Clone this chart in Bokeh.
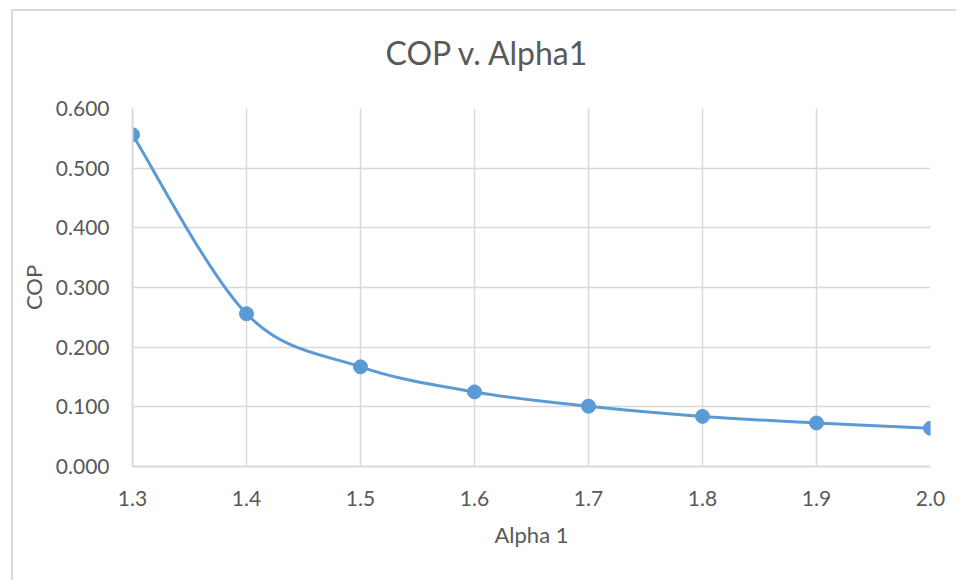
from bokeh.plotting import figure
from bokeh.models import NumeralTickFormatter, Range1d, FixedTicker, Title
from bokeh.embed import file_html
from bokeh.resources import INLINE

alpha = [1.3, 1.4, 1.5, 1.6, 1.7, 1.8, 1.9, 2.0]
cop = [0.556, 0.256, 0.167, 0.125, 0.101, 0.084, 0.073, 0.064]
x_ticks = [1.3, 1.4, 1.5, 1.6, 1.7, 1.8, 1.9, 2.0]
y_ticks = [0.0, 0.1, 0.2, 0.3, 0.4, 0.5, 0.6]

FONT = "Lato"
GREY = "#595959"
GRID = "#d9d9d9"
BLUE = "#5b9bd5"

p = figure(width=945, height=571, output_backend="svg", toolbar_location=None,
           x_range=Range1d(1.3, 2.0), y_range=Range1d(0, 0.6),
           min_border_left=119, min_border_right=28, min_border_top=97, min_border_bottom=116)
p.margin = (9, 0, 0, 11)
p.styles = {"border-top": "2px solid #d9d9d9", "border-left": "2px solid #d9d9d9"}
p.outline_line_color = None
p.background_fill_color = "white"
p.border_fill_color = "white"

p.title.text = "COP v. Alpha1"
p.title.text_font = FONT
p.title.text_font_size = "32px"
p.title.text_font_style = "normal"
p.title.text_color = GREY
p.title.align = "left"
p.title.offset = 253
p.title.standoff = 10

# empty spacer between the title and the plot area
p.add_layout(Title(text=" ", text_font_size="1px", standoff=29), "above")

# Excel-like smoothed line via cubic Bezier segments built from the data
n = len(alpha)
x0, y0, x1, y1, cx0, cy0, cx1, cy1 = [], [], [], [], [], [], [], []
for i in range(n - 1):
    pm = max(i - 1, 0)
    pn = min(i + 2, n - 1)
    x0.append(alpha[i]); y0.append(cop[i])
    x1.append(alpha[i + 1]); y1.append(cop[i + 1])
    cx0.append(alpha[i] + (alpha[i + 1] - alpha[pm]) / 6)
    cy0.append(cop[i] + (cop[i + 1] - cop[pm]) / 6)
    cx1.append(alpha[i + 1] - (alpha[pn] - alpha[i]) / 6)
    cy1.append(cop[i + 1] - (cop[pn] - cop[i]) / 6)
p.bezier(x0=x0, y0=y0, x1=x1, y1=y1, cx0=cx0, cy0=cy0, cx1=cx1, cy1=cy1,
         line_color=BLUE, line_width=3)
p.scatter(alpha, cop, size=14, fill_color=BLUE, line_color=BLUE)

p.xaxis.ticker = FixedTicker(ticks=x_ticks)
p.yaxis.ticker = FixedTicker(ticks=y_ticks)
p.xaxis.formatter = NumeralTickFormatter(format="0.0")
p.yaxis.formatter = NumeralTickFormatter(format="0.000")

for ax in (p.xaxis, p.yaxis):
    ax.major_tick_line_color = None
    ax.minor_tick_line_color = None
    ax.major_label_text_font = FONT
    ax.major_label_text_font_size = "21px"
    ax.major_label_text_color = GREY
    ax.axis_label_text_font = FONT
    ax.axis_label_text_font_size = "22px"
    ax.axis_label_text_font_style = "normal"
    ax.axis_label_text_color = GREY
p.xaxis.axis_line_color = GRID
p.xaxis.axis_line_width = 2
p.yaxis.axis_line_color = GRID
p.yaxis.axis_line_width = 2
p.xaxis.axis_label = "Alpha 1"
p.yaxis.axis_label = "COP"
p.xaxis.major_label_standoff = 18
p.yaxis.major_label_standoff = 17
p.xaxis.axis_label_standoff = 12
p.yaxis.axis_label_standoff = 6

p.xgrid.grid_line_color = GRID
p.ygrid.grid_line_color = GRID
p.xgrid.grid_line_width = 1.5
p.ygrid.grid_line_width = 1.5

open("out.html", "w").write(file_html(p, INLINE))
